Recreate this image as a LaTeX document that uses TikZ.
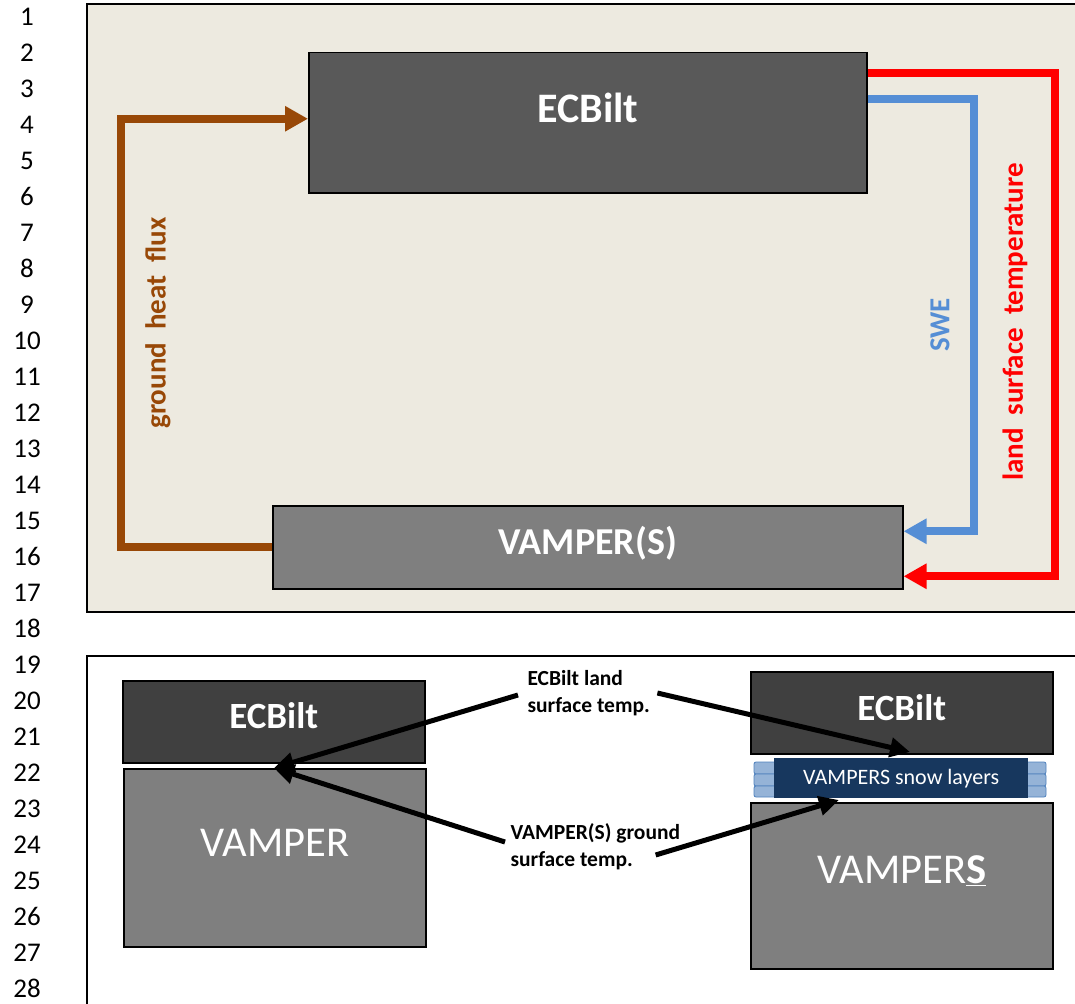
\documentclass[tikz,border=0pt]{standalone}
\usepackage{fontspec}
\setmainfont{Carlito}
\usetikzlibrary{arrows.meta}
\definecolor{panel}{HTML}{EDEAE0}
\definecolor{ecbgray}{HTML}{595959}
\definecolor{ecbdark}{HTML}{404040}
\definecolor{vampgray}{HTML}{7F7F7F}
\definecolor{fluxbrown}{HTML}{984807}
\definecolor{swe}{HTML}{558ED5}
\definecolor{snownavy}{HTML}{17375E}
\definecolor{snowlayer}{HTML}{95B3D7}
\definecolor{snowedge}{HTML}{4F81BD}
\begin{document}
\begin{tikzpicture}[x=1pt,y=-1pt,line join=miter,
	model/.style={draw=black,line width=1.5pt,anchor=north west,inner sep=0pt},
	bigtxt/.style={text=white,font=\fontsize{38}{44}\selectfont\bfseries},
	smalltxt/.style={text=white,font=\fontsize{37}{42}\selectfont\bfseries},
	feed/.style={line width=8pt,-{Triangle[length=23pt,width=24pt]}},
	vlabel/.style={rotate=90,font=\fontsize{29}{34}\selectfont\bfseries},
	tempnote/.style={align=left,font=\fontsize{21.5}{27}\selectfont\bfseries},
	templine/.style={line width=5pt,-{Triangle[length=20pt,width=19pt]}},
	snowlay/.style={draw=snowedge,fill=snowlayer,line width=0.8pt,rounded corners=2pt}]
	\useasboundingbox (0,0) rectangle (1075,1003);
	% line numbers
	\foreach \n in {1,...,28}
		\node[font=\fontsize{27}{30}\selectfont,inner sep=1pt] (ln\n) at (27,{16.5+36*(\n-1)}) {\n};
	% upper panel
	\fill[panel] (87,4) rectangle (1080,612);
	\draw[line width=2.5pt] (1080,4) -- (87,4) -- (87,612) -- (1080,612);
	\node[model,fill=ecbgray,minimum width=558pt,minimum height=140pt] (ecb) at (308,52) {};
	\node[text=white,font=\fontsize{42}{48}\selectfont\bfseries] (ecbtxt) at ([yshift=15pt]ecb.center) {ECBilt};
	\node[model,fill=vampgray,minimum width=630pt,minimum height=83pt] (vs) at (272,505) {};
	\node[bigtxt] (vstxt) at ([yshift=4pt]vs.center) {VAMPER(S)};
	\draw[feed,fluxbrown] (vs.west) -- ++(-151,0) |- ([yshift=4pt]ecb.west);
	\draw[feed,swe] ([yshift=24pt]ecb.east) -- ++(106,0) |- ([yshift=16pt]vs.east);
	\draw[feed,red] ([yshift=50pt]ecb.east) -- ++(187,0) |- ([yshift=-29pt]vs.east);
	\node[vlabel,text=fluxbrown] (ghf) at (158,323) {ground\ \ heat\ \ flux};
	\node[vlabel,text=swe] (swelbl) at (940,325) {SWE};
	\node[vlabel,text=red] (lst) at (1015,322) {land\ \ surface\ \ temperature};
	% lower panel
	\draw[line width=2.5pt] (87,1010) -- (87,656) -- (1080,656);
	\node[model,fill=ecbdark,minimum width=302pt,minimum height=82pt] (ecbL) at (122,680) {};
	\node[smalltxt] (ecbLtxt) at ([yshift=6pt]ecbL.center) {ECBilt};
	\node[model,fill=vampgray,minimum width=302pt,minimum height=178pt] (vampL) at (123,768) {};
	\node[text=white,font=\fontsize{42.5}{48}\selectfont] (vampLtxt) at ([yshift=15pt]vampL.center) {VAMPER};
	\node[model,fill=ecbdark,minimum width=302pt,minimum height=82pt] (ecbR) at (750,671) {};
	\node[smalltxt] (ecbRtxt) at ([yshift=5pt]ecbR.center) {ECBilt};
	\node[model,fill=vampgray,minimum width=302pt,minimum height=166pt] (vampR) at (750,802) {};
	\node[text=white,font=\fontsize{42.5}{48}\selectfont] (vampRtxt) at ([yshift=15pt]vampR.center) {VAMPER\textbf{\underline{S}}};
	% snow layers
	\draw[snowlay] (754,762) rectangle (1046,774);
	\draw[snowlay] (754,774) rectangle (1046,786);
	\draw[snowlay] (754,786) rectangle (1046,797);
	\node[fill=snownavy,anchor=north west,minimum width=254pt,minimum height=40pt,inner sep=0pt,text=white,font=\fontsize{22}{26}\selectfont] (snow) at (774,758) {VAMPERS snow layers};
	% temperature notes
	\coordinate (tipL) at (274,768);
	\coordinate (tipR) at (910,752);
	\coordinate (tipS) at (839,800);
	\node[tempnote,anchor=west] (ecbnote) at (524,693) {ECBilt land\\surface temp.};
	\node[tempnote,anchor=west] (vsnote) at (507,847) {VAMPER(S) ground\\surface temp.};
	\draw[templine] ([xshift=-6pt,yshift=-2pt]ecbnote.west) -- (tipL);
	\draw[templine] ([xshift=4pt]ecbnote.east) -- (tipR);
	\draw[templine] ([xshift=-2pt,yshift=5pt]vsnote.west) -- (tipL);
	\draw[templine] ([xshift=-28pt,yshift=-8pt]vsnote.east) -- (tipS);
\end{tikzpicture}
\end{document}
